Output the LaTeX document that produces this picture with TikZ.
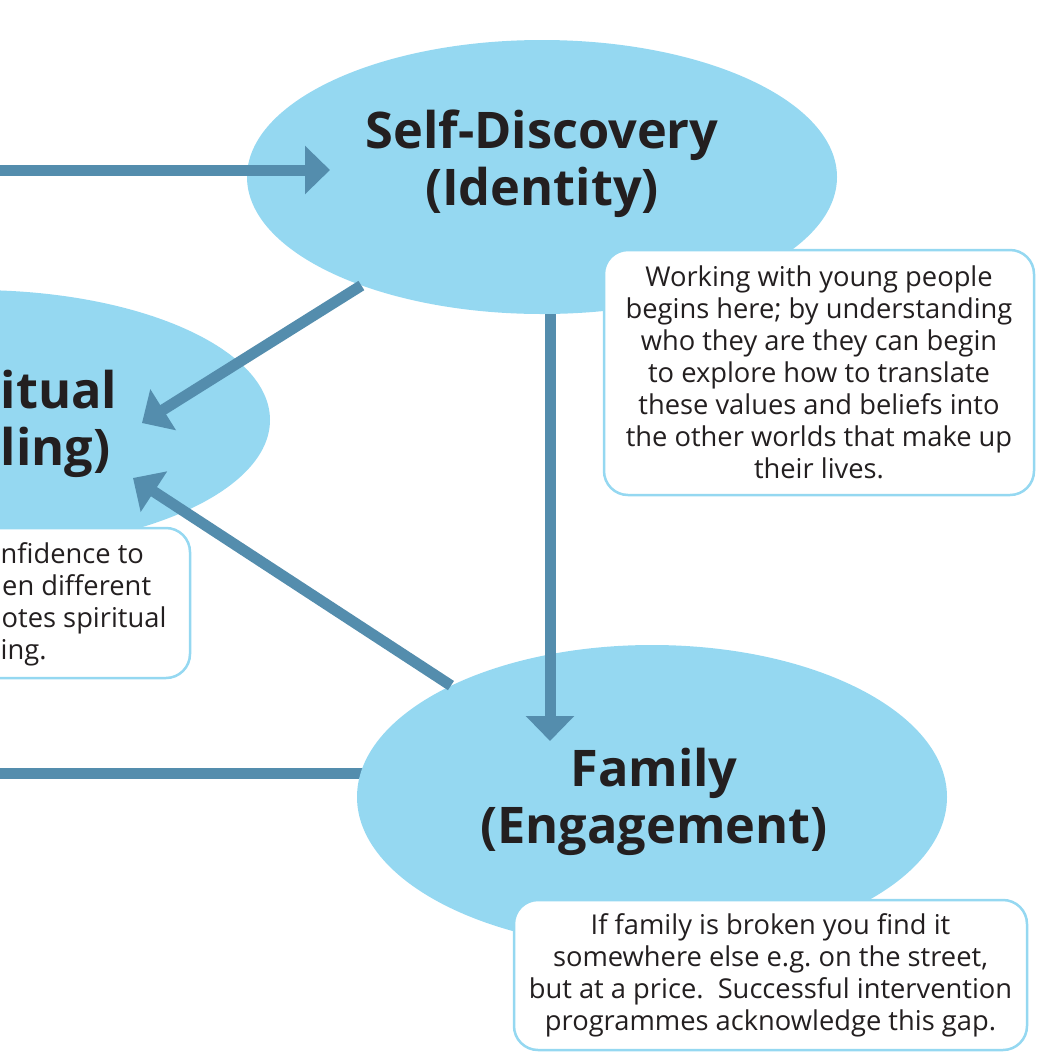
\documentclass[tikz,border=0pt]{standalone}
\usepackage{fontspec}
\setmainfont{Open Sans}
\frenchspacing
\usetikzlibrary{arrows.meta,shapes.geometric,backgrounds}
\definecolor{bubble}{RGB}{149,216,241}
\definecolor{linkblue}{RGB}{84,141,173}
\definecolor{ink}{RGB}{35,31,32}
\begin{document}
\begin{tikzpicture}[x=1pt,y=-1pt,
  bubble/.style={ellipse,fill=bubble,draw=none,inner sep=0pt},
  title/.style={font=\bfseries\fontsize{50.5}{57}\selectfont,text=ink,align=center,inner sep=0pt},
  note/.style={draw=bubble,line width=2.5pt,fill=white,rounded corners=24pt,inner sep=0pt},
  body/.style={font=\fontsize{27.3}{32}\selectfont,text=ink,align=center},
  conn/.style={draw=linkblue,line width=11pt},
  tip/.style={-{Triangle[width=47pt,length=25pt]}}
]
\useasboundingbox (0,0) rectangle (1040,1053);
\clip (0,0) rectangle (1040,1053);

% the three circles of the model
\node[bubble,minimum width=590pt,minimum height=274pt] (sd) at (542,177) {};
\node[bubble,minimum width=590pt,minimum height=260pt] (sp) at (-25,420) {};
\node[bubble,minimum width=590pt,minimum height=304pt] (fam) at (652,797) {};

% titles
\node[title] (sdt) at (542,164) {Self-Discovery\\(Identity)};
\node[title] (famt) at (654,802) {Family\\(Engagement)};
\node[title,anchor=base west] (spt1) at (0.5,408) {itual};
\node[title,anchor=base west] (spt2) at (0.5,465) {ling)};

% straight line running into the family circle
\coordinate (l5) at (-20,773);
\begin{pgfonlayer}{background}
  \draw[conn] (l5) -- (l5 -| fam.center);
\end{pgfonlayer}

% arrows between the circles
\coordinate (s1) at (-20,170);
\coordinate (t1) at (330,170);
\coordinate (t2) at (142,423);
\coordinate (t3) at (133,478);
\coordinate (t4) at (550,741);
\draw[conn,tip] (s1) -- (t1);
\draw[conn,tip] (sd.211) -- (t2);
\draw[conn,tip] (fam.151) -- (t3);
\draw[conn,tip] (t4 |- sd.south) -- (t4);

% explanatory notes
\node[note,minimum width=430pt,minimum height=245pt,body] (n1) at (819,372.5)
  {Working with young people\\begins here; by understanding\\who they are they can begin\\to explore how to translate\\these values and beliefs into\\the other worlds that make up\\their lives.};
\node[note,minimum width=513pt,minimum height=150pt,body] (n2) at (770.5,975)
  {If family is broken you find it\\somewhere else e.g. on the street,\\but at a price.\ \ Successful intervention\\programmes acknowledge this gap.};
\node[note,minimum width=440pt,minimum height=150pt] (n3) at (-30,603) {};
\node[body,inner sep=0pt,anchor=base west] (n3a) at (0.5,563) {nfidence to};
\node[body,inner sep=0pt,anchor=base west] (n3b) at (2,595) {en different};
\node[body,inner sep=0pt,anchor=base west] (n3c) at (1.5,627) {otes spiritual};
\node[body,inner sep=0pt,anchor=base west] (n3d) at (0.5,659) {ing.};
\end{tikzpicture}
\end{document}
